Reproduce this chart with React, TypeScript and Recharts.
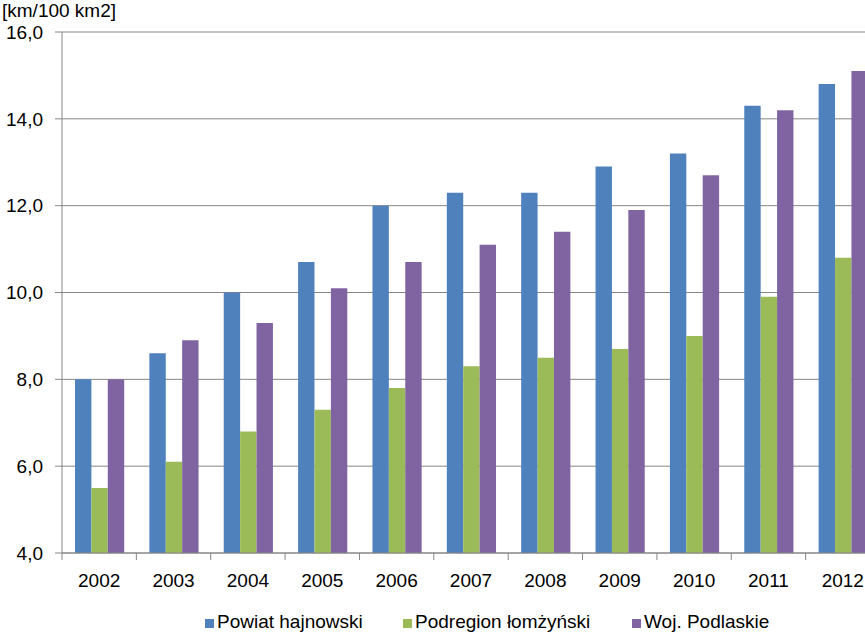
import React from 'react';
import { BarChart, Bar, XAxis, YAxis, CartesianGrid, Legend } from 'recharts';

const years = ['2002', '2003', '2004', '2005', '2006', '2007', '2008', '2009', '2010', '2011', '2012'];
const powiatHajnowski = [8.0, 8.6, 10.0, 10.7, 12.0, 12.3, 12.3, 12.9, 13.2, 14.3, 14.8];
const podregionLomzynski = [5.5, 6.1, 6.8, 7.3, 7.8, 8.3, 8.5, 8.7, 9.0, 9.9, 10.8];
const wojPodlaskie = [8.0, 8.9, 9.3, 10.1, 10.7, 11.1, 11.4, 11.9, 12.7, 14.2, 15.1];
const yTicks = [4, 6, 8, 10, 12, 14, 16];

const seriesNames = ['Powiat hajnowski', 'Podregion łomżyński', 'Woj. Podlaskie'];
const seriesColors = ['#4F81BD', '#9BBB59', '#8064A2'];

const data = years.map((year, i) => ({
    year,
    powiat: powiatHajnowski[i],
    podregion: podregionLomzynski[i],
    woj: wojPodlaskie[i],
}));

const CHART_W = 880;
const CHART_H = 632;
const AXIS_W = 62;
const PLOT_BOTTOM = 553;
const BAND = (CHART_W - AXIS_W) / years.length;
const GRAY = '#868686';
const FONT = '"Liberation Sans", Arial, sans-serif';

const fmt = (v: number) => v.toFixed(1).replace('.', ',');

// Excel-style ticks: marks sit between categories, not under them
const YearTick = (props: any) => {
    const { x, payload, index } = props;
    const left = x - BAND / 2;
    return (
        <g>
            <line x1={left} x2={left} y1={PLOT_BOTTOM} y2={PLOT_BOTTOM + 7} stroke={GRAY} />
            {index === years.length - 1 && (
                <line x1={x + BAND / 2} x2={x + BAND / 2} y1={PLOT_BOTTOM} y2={PLOT_BOTTOM + 7} stroke={GRAY} />
            )}
            <text x={x} y={587} textAnchor="middle" fontSize={19} fill="#000">
                {payload.value}
            </text>
        </g>
    );
};

const legendX = [205, 403, 632];

const LegendBox = () => (
    <div style={{ position: 'relative', width: CHART_W, height: 29 }}>
        {seriesNames.map((name, i) => (
            <div
                key={name}
                style={{ position: 'absolute', left: legendX[i], top: 4, height: 29, display: 'flex', alignItems: 'center' }}
            >
                <span style={{ display: 'inline-block', width: 9, height: 9, background: seriesColors[i], marginRight: 3, marginTop: 3 }} />
                <span style={{ fontSize: 19, color: '#000', whiteSpace: 'nowrap' }}>{name}</span>
            </div>
        ))}
    </div>
);

export default function App() {
    return (
        <div
            style={{
                position: 'fixed',
                left: 0,
                top: 0,
                width: 865,
                height: 632,
                overflow: 'hidden',
                background: '#fff',
                fontFamily: FONT,
            }}
        >
            <BarChart
                width={CHART_W}
                height={CHART_H}
                data={data}
                margin={{ top: 32, right: 0, left: 0, bottom: 0 }}
                barGap={0}
                barSize={16.4}
            >
                <CartesianGrid vertical={false} stroke={GRAY} />
                <XAxis
                    dataKey="year"
                    height={50}
                    interval={0}
                    tickLine={false}
                    axisLine={{ stroke: GRAY }}
                    tick={<YearTick />}
                />
                <YAxis
                    width={AXIS_W}
                    domain={[4, 16]}
                    ticks={yTicks}
                    tickFormatter={fmt}
                    tickSize={7}
                    tickMargin={12}
                    tickLine={{ stroke: GRAY }}
                    axisLine={{ stroke: GRAY }}
                    tick={{ fontSize: 19, fill: '#000' }}
                    label={{
                        content: () => (
                            <text x={2} y={17} fontSize={19} fill="#000">
                                [km/100 km2]
                            </text>
                        ),
                    }}
                />
                <Legend
                    verticalAlign="bottom"
                    content={<LegendBox />}
                    wrapperStyle={{ left: 0, bottom: 0, width: CHART_W, height: 29 }}
                />
                <Bar dataKey="powiat" name={seriesNames[0]} fill={seriesColors[0]} isAnimationActive={false} />
                <Bar dataKey="podregion" name={seriesNames[1]} fill={seriesColors[1]} isAnimationActive={false} />
                <Bar dataKey="woj" name={seriesNames[2]} fill={seriesColors[2]} isAnimationActive={false} />
            </BarChart>
        </div>
    );
}
